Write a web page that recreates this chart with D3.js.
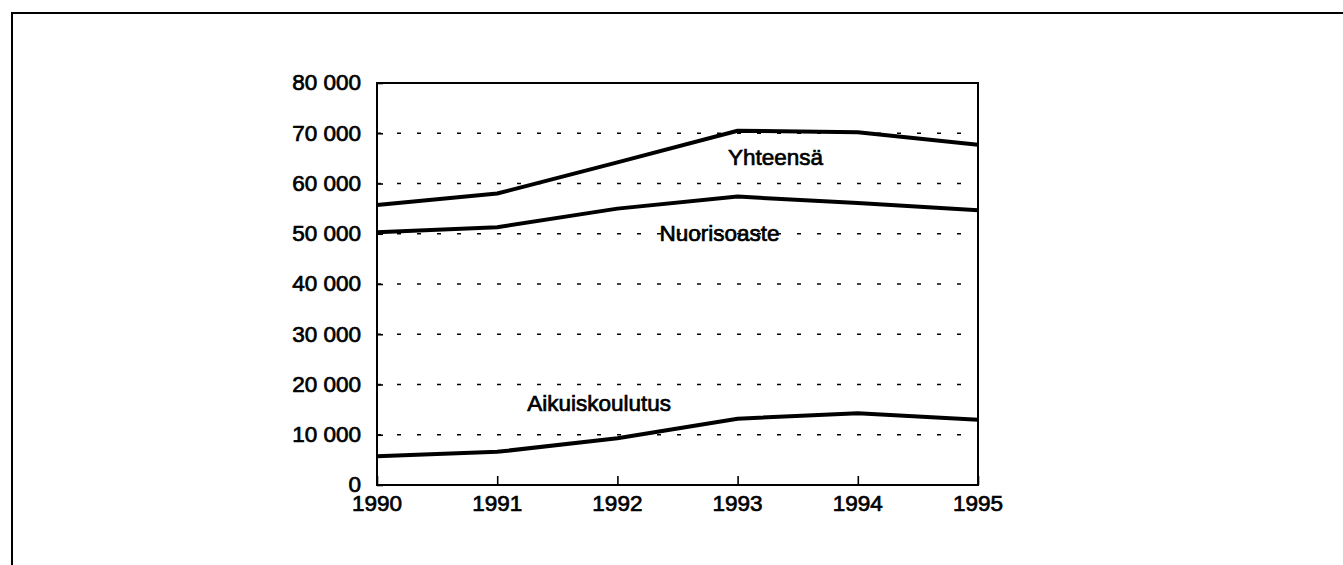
<!DOCTYPE html>
<html>
<head>
<meta charset="utf-8">
<script src="https://cdn.jsdelivr.net/npm/d3@7"></script>
<style>
  html, body { margin: 0; padding: 0; background: #fff; }
  svg { display: block; }
  text { font-family: "Liberation Sans", Arial, sans-serif; fill: #000; }
</style>
</head>
<body>
<svg id="chart" width="1343" height="565"></svg>
<script>
// data
const years = [1990, 1991, 1992, 1993, 1994, 1995];
const yhteensa = [55700, 58000, 64200, 70500, 70200, 67700];
const nuorisoaste = [50300, 51300, 55000, 57400, 56100, 54700];
const aikuiskoulutus = [5700, 6600, 9300, 13200, 14300, 13000];
const yTicks = [0, 10000, 20000, 30000, 40000, 50000, 60000, 70000, 80000];
const seriesLabels = ['Yhteensä', 'Nuorisoaste', 'Aikuiskoulutus'];

const series = [
  { name: seriesLabels[0], values: yhteensa },
  { name: seriesLabels[1], values: nuorisoaste },
  { name: seriesLabels[2], values: aikuiskoulutus }
];

// plot area
const margin = { top: 83, left: 377 };
const width = 601;
const height = 402;

const svg = d3.select('#chart');

// outer frame (top and left edges only visible)
svg.append('path')
  .attr('d', 'M12,565 V13 H1343')
  .attr('fill', 'none')
  .attr('stroke', '#000')
  .attr('stroke-width', 2);

const g = svg.append('g')
  .attr('transform', 'translate(' + margin.left + ',' + margin.top + ')');

const x = d3.scaleLinear().domain([1990, 1995]).range([0, width]);
const y = d3.scaleLinear().domain([0, 80000]).range([height, 0]);

const fmt = v => d3.format(',')(v).replace(/,/g, ' ');

// dotted grid lines
g.append('g')
  .selectAll('line')
  .data(yTicks.filter(d => d > 0 && d < 80000))
  .enter()
  .append('line')
  .attr('x1', 0)
  .attr('x2', width)
  .attr('y1', d => y(d))
  .attr('y2', d => y(d))
  .attr('stroke', '#000')
  .attr('stroke-width', 1.6)
  .attr('stroke-dasharray', '4,16');

// Y axis: inward ticks, labels on the left
const yAxis = g.append('g')
  .call(d3.axisRight(y).tickValues(yTicks).tickSize(6).tickFormat(''));
yAxis.select('.domain').remove();
yAxis.selectAll('line').attr('stroke-width', 1.6);

g.append('g')
  .selectAll('text')
  .data(yTicks)
  .enter()
  .append('text')
  .attr('x', -16)
  .attr('y', d => y(d))
  .attr('dy', '0.33em')
  .attr('text-anchor', 'end')
  .style('font-size', '22.5px')
  .style('stroke', '#000')
  .style('stroke-width', 0.7)
  .text(fmt);

// X axis: inward ticks, labels below
const xAxis = g.append('g')
  .attr('transform', 'translate(0,' + height + ')')
  .call(d3.axisTop(x).tickValues(years).tickSize(9).tickFormat(''));
xAxis.select('.domain').remove();
xAxis.selectAll('line').attr('stroke-width', 1.6);

g.append('g')
  .selectAll('text')
  .data(years)
  .enter()
  .append('text')
  .attr('x', d => x(d))
  .attr('y', height + 26)
  .attr('text-anchor', 'middle')
  .style('font-size', '22.5px')
  .style('stroke', '#000')
  .style('stroke-width', 0.7)
  .text(d => d);

// plot box
g.append('rect')
  .attr('x', 0)
  .attr('y', 0)
  .attr('width', width)
  .attr('height', height)
  .attr('fill', 'none')
  .attr('stroke', '#000')
  .attr('stroke-width', 2);

// lines
const line = d3.line()
  .x((d, i) => x(years[i]))
  .y(d => y(d));

g.append('g')
  .selectAll('path')
  .data(series)
  .enter()
  .append('path')
  .attr('d', d => line(d.values))
  .attr('fill', 'none')
  .attr('stroke', '#000')
  .attr('stroke-width', 4)
  .attr('stroke-linejoin', 'round');

// series labels, placed next to their lines
const labelPos = [
  { year: 1992.92, value: 63600 },
  { year: 1992.35, value: 48600 },
  { year: 1991.25, value: 14700 }
];

g.append('g')
  .selectAll('text')
  .data(series)
  .enter()
  .append('text')
  .attr('x', (d, i) => x(labelPos[i].year))
  .attr('y', (d, i) => y(labelPos[i].value))
  .style('font-size', '22.5px')
  .style('stroke', '#000')
  .style('stroke-width', 0.7)
  .text(d => d.name);
</script>
</body>
</html>
